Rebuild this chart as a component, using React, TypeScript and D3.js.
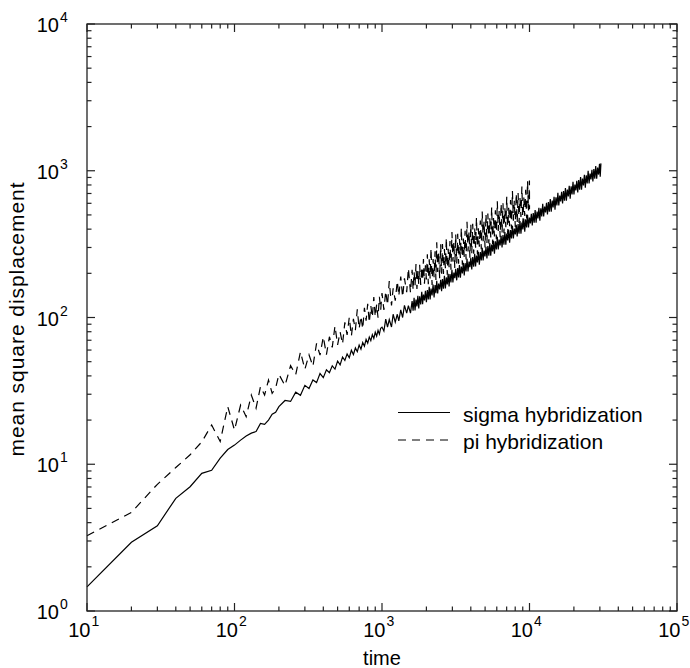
import React from 'react';
import * as d3 from 'd3';

// mean square displacement vs time
const sigmaTime = [
  10, 20, 30, 40, 50, 60, 70, 80, 90, 100, 110, 120, 130, 140, 150, 160, 170, 180, 190,
  200, 220, 240, 260, 280, 300, 320, 340, 360, 380, 400, 420, 440, 460, 480, 500, 520, 540, 560, 580,
  600, 620, 640, 660, 680, 700, 720, 740, 760, 780, 800, 820, 840, 860, 880, 900, 920, 940, 960, 980, 1000,
  1030, 1060, 1090, 1120, 1160, 1190, 1230, 1270, 1300, 1340, 1380, 1420, 1470, 1510, 1560,
  1600, 1625, 1650, 1675, 1700, 1725, 1750, 1775, 1800, 1830, 1860, 1885, 1910, 1940, 1970, 2000,
  2030, 2060, 2090, 2120, 2150, 2185, 2220, 2255, 2290, 2320, 2350, 2385, 2420, 2460, 2500, 2535,
  2570, 2610, 2650, 2690, 2730, 2770, 2810, 2850, 2890, 2935, 2980, 3025, 3070, 3115, 3160, 3210,
  3260, 3305, 3350, 3400, 3450, 3505, 3560, 3610, 3660, 3715, 3770, 3830, 3890, 3945, 4000, 4060,
  4120, 4185, 4250, 4310, 4370, 4435, 4500, 4570, 4640, 4710, 4780, 4850, 4920, 4995, 5070, 5145,
  5220, 5300, 5380, 5460, 5540, 5620, 5700, 5785, 5870, 5960, 6050, 6140, 6230, 6325, 6420, 6515,
  6610, 6710, 6810, 6910, 7010, 7115, 7220, 7330, 7440, 7550, 7660, 7775, 7890, 8010, 8130, 8250,
  8370, 8495, 8620, 8750, 8880, 9015, 9150, 9285, 9420, 9560, 9700, 9845, 9990, 10140, 10290, 10445,
  10600, 10760, 10920, 11085, 11250, 11415, 11580, 11755, 11930, 12110, 12290, 12475, 12660, 12850, 13040, 13235,
  13430, 13630, 13830, 14040, 14250, 14460, 14670, 14890, 15110, 15340, 15570, 15800, 16030, 16270, 16510, 16760,
  17010, 17265, 17520, 17785, 18050, 18320, 18590, 18870, 19150, 19435, 19720, 20015, 20310, 20615, 20920, 21235,
  21550, 21875, 22200, 22530, 22860, 23205, 23550, 23900, 24250, 24615, 24980, 25355, 25730, 26115, 26500, 26900,
  27300, 27710, 28120, 28540, 28960, 29395, 29830, 30165, 30500,
];
const sigmaMsd = [
  1.46, 2.94, 3.81, 5.86, 7.03, 8.67, 9.1, 11.0, 12.6, 13.5, 14.6, 15.6, 16.3, 16.7, 19.0, 18.7, 20.0, 21.9, 22.6,
  24.7, 27.2, 26.8, 31.0, 29.5, 34.5, 32.8, 37.5, 36.0, 41.5, 38.9, 44.0, 42.0, 46.8, 44.5, 50.5, 47.6, 53.8, 51.0, 56.5,
  53.2, 59.8, 55.9, 62.0, 58.5, 64.9, 60.8, 67.5, 63.7, 71.0, 66.8, 73.6, 69.5, 76.4, 72.0, 79.5, 74.6, 81.8, 77.0, 84.5, 86.0,
  80.8, 97.6, 86.0, 96.9, 86.2, 105.2, 93.0, 105.2, 94.7, 112.7, 100.0, 120.8, 107.0, 120.5, 107.0,
  129.4, 111.4, 136.0, 111.5, 132.7, 118.9, 140.7, 115.1, 139.6, 122.7, 149.7, 123.0, 143.1, 130.8, 151.9, 126.9,
  153.9, 132.5, 161.6, 132.5, 157.5, 141.2, 167.4, 137.0, 166.5, 146.3, 177.6, 145.9, 170.1, 155.5, 180.8, 151.0,
  182.8, 157.4, 192.1, 157.5, 187.5, 168.1, 198.8, 162.6, 197.4, 173.4, 211.2, 173.5, 202.4, 185.1, 214.6, 179.2,
  217.5, 187.3, 228.0, 186.9, 222.5, 199.4, 236.2, 193.2, 234.5, 206.0, 250.8, 206.0, 240.6, 219.9, 254.8, 212.8,
  258.0, 222.2, 271.3, 222.4, 264.4, 236.9, 280.3, 229.3, 278.8, 245.0, 298.3, 245.0, 285.6, 261.1, 303.0, 253.0,
  306.7, 264.1, 322.2, 264.2, 314.4, 281.8, 333.1, 272.5, 331.1, 290.8, 354.3, 291.0, 339.4, 310.3, 360.0, 300.6,
  364.4, 313.8, 382.7, 313.8, 373.3, 334.6, 395.8, 323.8, 393.7, 345.8, 420.9, 345.7, 403.2, 368.6, 427.8, 357.2,
  433.0, 372.8, 454.7, 372.7, 443.6, 397.6, 470.6, 385.0, 467.6, 410.8, 500.1, 410.8, 478.9, 437.9, 508.0, 424.2,
  514.4, 443.0, 540.3, 443.0, 527.4, 472.6, 558.8, 457.2, 555.5, 488.0, 594.3, 488.2, 569.3, 520.5, 604.0, 504.2,
  611.4, 526.5, 642.0, 526.3, 626.7, 561.6, 664.2, 543.4, 660.2, 580.0, 706.4, 580.2, 676.4, 618.4, 717.5, 599.1,
  726.5, 625.6, 763.0, 625.5, 744.7, 667.4, 789.6, 646.0, 784.8, 689.5, 839.3, 689.4, 803.9, 735.0, 852.8, 712.0,
  863.5, 743.5, 906.9, 743.5, 884.8, 793.0, 938.4, 767.8, 932.4, 819.1, 997.4, 819.3, 955.4, 873.5, 1013.3, 845.9,
  1025.8, 883.3, 1077.3, 883.2, 1051.0, 941.9, 1115.0, 912.2, 1122.7,
];

const piTime = [
  10, 20, 30, 40, 50, 60, 70, 80, 90, 100, 110, 120, 130, 140, 150, 160, 170, 180, 190,
  200, 220, 240, 260, 280, 300, 320, 340, 360, 380, 400, 420, 440, 460, 480, 500, 520, 540, 560, 580,
  600, 620, 640, 660, 680, 700, 720, 740, 760, 780, 800, 820, 840, 860, 880, 900, 920, 940, 960, 980, 1000,
  1030, 1060, 1090, 1120, 1160, 1190, 1230, 1270, 1300, 1340, 1380, 1420, 1470, 1510, 1560,
  1600, 1625, 1650, 1675, 1700, 1725, 1750, 1775, 1800, 1830, 1860, 1885, 1910, 1940, 1970, 2000,
  2030, 2060, 2090, 2120, 2150, 2185, 2220, 2255, 2290, 2320, 2350, 2385, 2420, 2460, 2500, 2535,
  2570, 2610, 2650, 2690, 2730, 2770, 2810, 2850, 2890, 2935, 2980, 3025, 3070, 3115, 3160, 3210,
  3260, 3305, 3350, 3400, 3450, 3505, 3560, 3610, 3660, 3715, 3770, 3830, 3890, 3945, 4000, 4060,
  4120, 4185, 4250, 4310, 4370, 4435, 4500, 4570, 4640, 4710, 4780, 4850, 4920, 4995, 5070, 5145,
  5220, 5300, 5380, 5460, 5540, 5620, 5700, 5785, 5870, 5960, 6050, 6140, 6230, 6325, 6420, 6515,
  6610, 6710, 6810, 6910, 7010, 7115, 7220, 7330, 7440, 7550, 7660, 7775, 7890, 8010, 8130, 8250,
  8370, 8495, 8620, 8750, 8880, 9015, 9150, 9285, 9420, 9560, 9700, 9845, 9990, 10000,
];
const piMsd = [
  3.26, 4.7, 7.3, 9.5, 11.6, 14.2, 18.5, 14.3, 24.7, 17.1, 25.3, 21.1, 29.6, 24.1, 33.8, 29.6, 37.5, 30.4, 33.0,
  41.0, 34.4, 47.0, 40.8, 58.4, 44.4, 55.7, 46.5, 66.6, 55.4, 73.9, 55.8, 73.9, 62.6, 87.6, 65.1, 80.0, 65.9, 92.6, 76.1,
  100.2, 74.7, 97.9, 82.0, 113.7, 83.8, 102.2, 83.4, 116.5, 95.0, 124.1, 92.2, 120.0, 100.0, 137.9, 101.2, 122.6, 99.7, 138.6, 112.6, 147.0,
  112.7, 151.5, 121.3, 176.9, 120.8, 158.0, 130.2, 177.4, 139.9, 190.3, 137.5, 184.8, 148.6, 216.7, 147.8,
  211.1, 153.9, 204.6, 164.4, 231.3, 156.7, 209.2, 167.4, 228.8, 166.8, 222.1, 178.5, 250.4, 169.6, 226.8, 181.5,
  269.3, 168.3, 248.9, 184.6, 297.6, 166.3, 250.4, 187.8, 283.2, 180.4, 325.4, 204.5, 279.8, 184.9, 315.1, 198.8,
  316.2, 197.6, 292.6, 216.9, 350.1, 195.6, 293.9, 220.4, 331.7, 211.3, 382.5, 240.4, 328.9, 217.4, 369.6, 233.1,
  371.7, 232.3, 343.1, 254.4, 410.3, 229.3, 345.3, 259.0, 389.6, 248.2, 448.7, 282.0, 386.3, 255.4, 433.8, 273.6,
  435.8, 272.4, 403.4, 299.1, 482.0, 269.3, 404.9, 303.7, 457.7, 291.6, 527.2, 331.4, 453.4, 299.7, 509.6, 321.4,
  511.9, 319.9, 473.5, 351.1, 566.3, 316.5, 475.6, 356.7, 537.0, 342.1, 618.9, 389.0, 532.2, 351.8, 598.4, 377.4,
  601.0, 375.6, 555.8, 412.0, 664.6, 371.4, 558.4, 418.8, 631.0, 402.0, 726.7, 456.8, 624.9, 413.1, 702.7, 443.2,
  705.5, 441.0, 652.4, 483.7, 780.5, 436.2, 656.1, 492.1, 740.9, 472.0, 853.3, 536.4, 858.1, 547.0,
];

const xDecades = [1, 2, 3, 4, 5];
const yDecades = [0, 1, 2, 3, 4];
const legendLabels = ['sigma hybridization', 'pi hybridization'];

const W = 690;
const H = 668;
const left = 87;
const right = 677;
const top = 24;
const bottom = 611;
const font = "'Liberation Sans', Arial, Helvetica, sans-serif";

export default function App() {
  const x = d3.scaleLog().domain([10, 1e5]).range([left, right]);
  const y = d3.scaleLog().domain([1, 1e4]).range([bottom, top]);

  const line = d3.line<[number, number]>()
    .x(d => x(d[0]))
    .y(d => y(d[1]));

  const sigmaPts = d3.zip(sigmaTime, sigmaMsd) as [number, number][];
  const piPts = d3.zip(piTime, piMsd) as [number, number][];

  const isMajor = (v: number) => Math.abs(Math.log10(v) - Math.round(Math.log10(v))) < 1e-9;
  const xTicks = x.ticks();
  const yTicks = y.ticks();

  return (
    <svg width={W} height={H} style={{ position: 'absolute', left: 0, top: 0, background: '#fff' }}>
      <g fill="none" stroke="#000" strokeWidth={1.2}>
        <path d={line(sigmaPts) || ''} />
        <path d={line(piPts) || ''} strokeDasharray="8,6" />
      </g>

      {/* frame */}
      <rect x={left} y={top} width={right - left} height={bottom - top} fill="none" stroke="#222" strokeWidth={1.3} />

      {/* ticks on all four sides */}
      <g stroke="#222" strokeWidth={1.2}>
        {xTicks.map(t => {
          const len = isMajor(t) ? 8 : 4.5;
          const px = x(t);
          return (
            <g key={'x' + t}>
              <line x1={px} x2={px} y1={bottom} y2={bottom - len} />
              <line x1={px} x2={px} y1={top} y2={top + len} />
            </g>
          );
        })}
        {yTicks.map(t => {
          const len = isMajor(t) ? 8 : 4.5;
          const py = y(t);
          return (
            <g key={'y' + t}>
              <line x1={left} x2={left + len} y1={py} y2={py} />
              <line x1={right} x2={right - len} y1={py} y2={py} />
            </g>
          );
        })}
      </g>

      <g fontFamily={font} fill="#000">
        {xDecades.map(d => {
          const px = x(Math.pow(10, d));
          return (
            <g key={'xl' + d}>
              <text x={px + 3.5} y={637} fontSize={20} textAnchor="end">10</text>
              <text x={px + 4.5} y={626} fontSize={14}>{d}</text>
            </g>
          );
        })}
        {yDecades.map(d => {
          const py = y(Math.pow(10, d));
          return (
            <g key={'yl' + d}>
              <text x={59} y={py + 8} fontSize={20} textAnchor="end">10</text>
              <text x={60} y={py - 2} fontSize={14}>{d}</text>
            </g>
          );
        })}
        <text x={(left + right) / 2} y={665} fontSize={20} textAnchor="middle">time</text>
        <text
          transform={`translate(24,${(top + bottom) / 2 + 2}) rotate(-90)`}
          fontSize={21}
          textAnchor="middle"
          textLength={274}
          lengthAdjust="spacing"
        >
          mean square displacement
        </text>
      </g>

      {/* legend */}
      <g fontFamily={font}>
        {legendLabels.map((lab, i) => (
          <g key={lab}>
            <line
              x1={398}
              x2={450}
              y1={412.5 + i * 27.5}
              y2={412.5 + i * 27.5}
              stroke="#000"
              strokeWidth={1.1}
              strokeDasharray={i === 1 ? '8,6' : undefined}
            />
            <text x={463} y={421.5 + i * 27} fontSize={21}>{lab}</text>
          </g>
        ))}
      </g>
    </svg>
  );
}
